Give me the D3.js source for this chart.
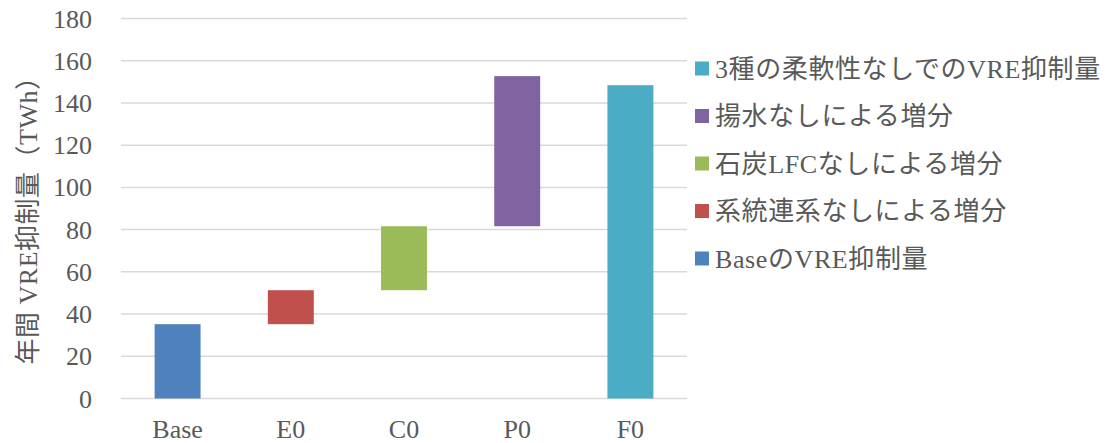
<!DOCTYPE html>
<html>
<head>
<meta charset="utf-8">
<script src="https://cdn.jsdelivr.net/npm/d3@7"></script>
<style>
  html, body { margin: 0; padding: 0; background: #fff; }
  svg { display: block; }
  text { font-family: "Liberation Serif", "Noto Sans CJK JP", serif; fill: #595959; }
</style>
</head>
<body>
<svg id="chart" width="1109" height="443"></svg>
<script>
// Waterfall of curtailed VRE (TWh) by scenario
const categories = ["Base", "E0", "C0", "P0", "F0"];
const offsets    = [0, 35.2, 51.3, 81.6, 0];       // invisible stack beneath each step
const increments = [35.2, 16.1, 30.3, 71.1, 148.4]; // visible step height
const seriesNames = [
  "BaseのVRE抑制量",
  "系統連系なしによる増分",
  "石炭LFCなしによる増分",
  "揚水なしによる増分",
  "3種の柔軟性なしでのVRE抑制量"
];
const seriesColors = ["#4f81bd", "#c0504d", "#9bbb59", "#8064a2", "#4bacc6"];
const yTicks = [0, 20, 40, 60, 80, 100, 120, 140, 160, 180];
const yTitle = "年間 VRE抑制量（TWh）";

const svg = d3.select("#chart");

const x = d3.scaleBand()
  .domain(categories)
  .range([121, 687])
  .paddingInner(0.594)
  .paddingOuter(0.297);

const y = d3.scaleLinear()
  .domain([0, 180])
  .range([398.5, 18.5]);

// gridlines
svg.append("g")
  .selectAll("line")
  .data(yTicks)
  .join("line")
  .attr("x1", 121)
  .attr("x2", 687)
  .attr("y1", d => y(d))
  .attr("y2", d => y(d))
  .attr("stroke", "#d9d9d9")
  .attr("stroke-width", 1.5);

// y tick labels
svg.append("g")
  .selectAll("text")
  .data(yTicks)
  .join("text")
  .attr("x", 92)
  .attr("y", d => y(d))
  .attr("dy", "0.35em")
  .attr("text-anchor", "end")
  .attr("font-size", 26)
  .text(d => d);

// bars
const rows = categories.map((c, i) => ({
  cat: c, lo: offsets[i], hi: offsets[i] + increments[i], color: seriesColors[i]
}));

svg.append("g")
  .selectAll("rect")
  .data(rows)
  .join("rect")
  .attr("x", d => x(d.cat))
  .attr("width", x.bandwidth())
  .attr("y", d => y(d.hi))
  .attr("height", d => y(d.lo) - y(d.hi))
  .attr("fill", d => d.color);

// x labels
svg.append("g")
  .selectAll("text")
  .data(categories)
  .join("text")
  .attr("x", d => x(d) + x.bandwidth() / 2)
  .attr("y", 438)
  .attr("text-anchor", "middle")
  .attr("font-size", 26)
  .text(d => d);

// y axis title
svg.append("text")
  .attr("transform", "translate(37,214) rotate(-90)")
  .attr("text-anchor", "middle")
  .attr("font-size", 26)
  .attr("letter-spacing", 0.5)
  .text(yTitle);

// legend, last series on top
const legendItems = seriesNames.map((n, i) => ({ name: n, color: seriesColors[i] })).reverse();
const lg = svg.append("g")
  .selectAll("g")
  .data(legendItems)
  .join("g")
  .attr("transform", (d, i) => `translate(695,${68.5 + i * 47.5})`);

lg.append("rect")
  .attr("x", 0)
  .attr("y", -7)
  .attr("width", 14)
  .attr("height", 14)
  .attr("fill", d => d.color);

lg.append("text")
  .attr("x", 20)
  .attr("dy", "0.35em")
  .attr("font-size", 26)
  .attr("letter-spacing", 0.6)
  .text(d => d.name);
</script>
</body>
</html>
